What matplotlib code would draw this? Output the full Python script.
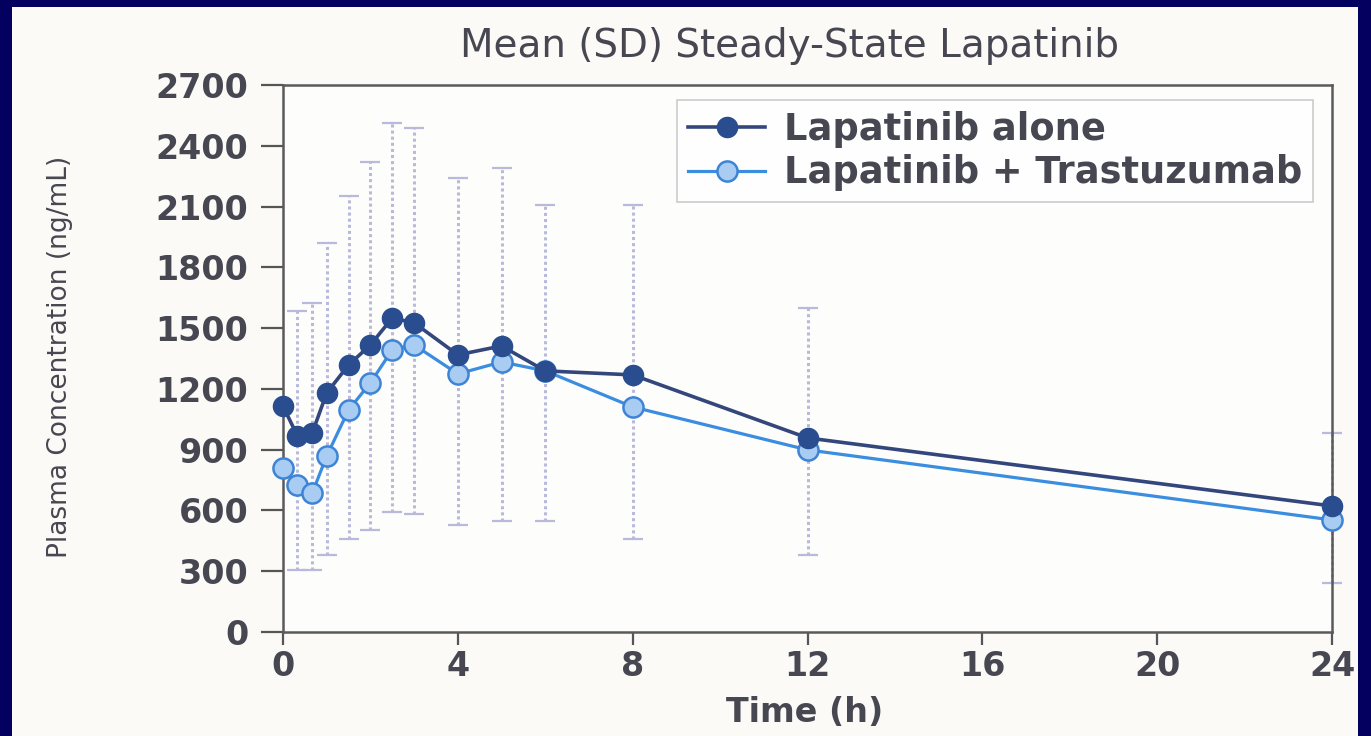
import matplotlib
matplotlib.use("Agg")
import matplotlib.pyplot as plt
from matplotlib.patches import Rectangle

# sampling times (h) and mean plasma concentration (ng/mL)
time_h = [0, 0.33, 0.67, 1, 1.5, 2, 2.5, 3, 4, 5, 6, 8, 12, 24]
lap_alone = [1115, 968, 983, 1180, 1318, 1417, 1550, 1526, 1368, 1412, 1289, 1269, 958, 622]
lap_trast = [810, 726, 686, 869, 1096, 1230, 1393, 1417, 1274, 1333, 1289, 1111, 899, 553]

# SD bars (lower / upper ends) for lapatinib alone, no bar visible at t=0
sd_time = [0.33, 0.67, 1, 1.5, 2, 2.5, 3, 4, 5, 6, 8, 12, 24]
sd_low = [306, 306, 380, 459, 503, 592, 582, 528, 548, 548, 460, 380, 240]
sd_high = [1585, 1625, 1921, 2153, 2321, 2514, 2489, 2242, 2292, 2109, 2110, 1600, 980]

x_ticks = [0, 4, 8, 12, 16, 20, 24]
y_ticks = [0, 300, 600, 900, 1200, 1500, 1800, 2100, 2400, 2700]

navy = "#03005f"
txt = "#474752"

fig = plt.figure(figsize=(13.71, 7.36), dpi=100, facecolor=navy)
# white slide panel inside the navy frame
fig.patches.append(Rectangle((12/1371, 0), 1346/1371, 729/736, transform=fig.transFigure,
                             facecolor="#fbfaf7", edgecolor="none", zorder=-5))

ax = fig.add_axes([283/1371, 1 - 632/736, 1049/1371, 547/736])
ax.set_facecolor("#fdfdfb")

# error bars first so the lines sit on top
mean_at_sd = lap_alone[1:]
yerr = [[m - lo for m, lo in zip(mean_at_sd, sd_low)],
        [hi - m for m, hi in zip(mean_at_sd, sd_high)]]
eb = ax.errorbar(sd_time, mean_at_sd, yerr=yerr, fmt="none", ecolor="#b9b9dc",
                 elinewidth=2.2, capsize=7, capthick=1.6, zorder=1)
eb[2][0].set_linestyle((0, (1, 1)))
for c in eb[1]:
    c.set_clip_on(False)
eb[2][0].set_clip_on(False)

ax.plot(time_h, lap_alone, color="#34477d", lw=2.6, marker="o", ms=14.5,
        mfc="#2a4d8f", mec="#2a4d8f", label="Lapatinib alone", zorder=4, clip_on=False)
ax.plot(time_h, lap_trast, color="#3b8de0", lw=2.3, marker="o", ms=14.5,
        mfc="#a9cdf2", mec="#3d84d6", mew=1.8, label="Lapatinib + Trastuzumab", zorder=3,
        clip_on=False)

ax.set_xlim(0, 24)
ax.set_ylim(0, 2700)
ax.set_xticks(x_ticks)
ax.set_yticks(y_ticks)
ax.tick_params(axis="y", direction="out", length=16, width=1.6, color="#555555",
               pad=9, labelsize=24, labelcolor=txt)
ax.tick_params(axis="x", direction="out", length=9, width=1.6, color="#555555",
               pad=4, labelsize=24, labelcolor=txt)
plt.setp(ax.get_xticklabels() + ax.get_yticklabels(), fontweight="bold")
for s in ax.spines.values():
    s.set_color("#5a5a5a")
    s.set_linewidth(1.8)

leg = ax.legend(loc="upper right", bbox_to_anchor=(0.982, 0.973), borderaxespad=0,
                prop={"weight": "bold", "size": 26.5}, frameon=True, fancybox=False,
                handlelength=2.1, handletextpad=0.5, labelspacing=0.18, borderpad=0.3)
leg.get_frame().set_edgecolor("#c4c4c4")
leg.get_frame().set_linewidth(1.3)
for t in leg.get_texts():
    t.set_color(txt)

fig.text(789/1371, 1 - 46/736, "Mean (SD) Steady-State Lapatinib", ha="center", va="center",
         fontsize=28, color=txt)
fig.text(805/1371, 1 - 712/736, "Time (h)", ha="center", va="center",
         fontsize=24, fontweight="bold", color=txt)
fig.text(60/1371, 1 - 357/736, "Plasma Concentration (ng/mL)", ha="center", va="center",
         rotation=90, fontsize=19, color=txt)

fig.savefig("out.png", dpi=100, facecolor=navy)
